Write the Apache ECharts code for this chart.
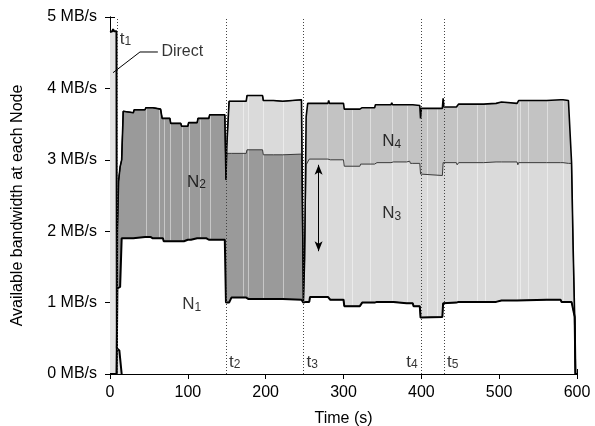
<!DOCTYPE html>
<html><head><meta charset="utf-8">
<script src="https://cdn.jsdelivr.net/npm/echarts@6/dist/echarts.min.js"></script>
<style>html,body{margin:0;padding:0;background:#fff}#c{width:595px;height:426px}</style>
</head><body><div id="c"></div>
<script>
// ---- data (time in s, bandwidth in MB/s) ----
const times = [0,8.5,9.5,11,13,15,17,30,31,45,46,52,53,55,56,65,66,67,68,69,77,78,91,92,95,96,100,101,104,105,112,113,124,125,127,128,147.5,
  149,150,153,155,156,175,176,177,178,196,197,210,211,222,223,246,248.5,250,252,254,256,257,280,281,282,283,300,301,321,322,323,324,340,341,342,343,
  361,362,363,364,365,381,382,385,386,389,390,398,399,400,427,428,429,445,446,447,448,480,481,496,497,503,504,523,524,525,561,562,579,580,582,583,589,593,595,597,598,600];
const node1 = [0,0,1.20,1.22,1.22,1.90,1.90,1.90,1.92,1.92,1.92,1.92,1.90,1.90,1.90,1.90,1.90,1.90,1.90,1.86,1.86,1.86,1.86,1.86,1.86,1.88,1.88,1.88,1.88,1.90,1.90,1.90,1.90,1.88,1.88,1.88,1.88,
  1.00,1.00,1.00,1.00,1.07,1.07,1.07,1.07,1.05,1.05,1.05,1.05,1.05,1.05,1.04,1.04,1.00,1.00,1.01,1.01,1.01,1.08,1.08,1.08,1.08,1.04,1.04,0.95,0.95,0.95,0.95,1.00,1.00,1.00,1.00,1.01,
  1.01,1.01,1.01,1.01,0.99,0.99,0.99,0.99,0.99,0.99,0.95,0.95,0.79,0.79,0.80,0.99,1.00,1.00,1.01,1.01,1.01,1.01,1.01,1.01,1.03,1.03,1.03,1.03,1.03,1.04,1.04,1.04,1.04,1.01,1.01,1.01,1.01,1.01,1.01,0.80,0,0];
const node2 = [0,0,0.80,1.48,1.68,1.10,1.78,1.76,1.78,1.78,1.81,1.81,1.83,1.83,1.81,1.81,1.83,1.68,1.68,1.72,1.72,1.65,1.65,1.61,1.61,1.59,1.59,1.64,1.64,1.62,1.62,1.68,1.68,1.70,1.70,1.75,1.75,
  1.72,2.09,2.09,2.09,2.02,2.02,2.07,2.07,2.09,2.09,2.02,2.02,2.02,2.02,2.04,2.04,0,0,0,0,0,0,0,0,0,0,0,0,0,0,0,0,0,0,0,0,
  0,0,0,0,0,0,0,0,0,0,0,0,0,0,0,0,0,0,0,0,0,0,0,0,0,0,0,0,0,0,0,0,0,0,0,0,0,0,0,0,0,0,0];
const node3 = [0,0,0,0,0,0,0,0,0,0,0,0,0,0,0,0,0,0,0,0,0,0,0,0,0,0,0,0,0,0,0,0,0,0,0,0,0,
  0,0.09,0.73,0.73,0.73,0.73,0.76,0.76,0.76,0.76,0.76,0.76,0.75,0.75,0.76,0.76,0,0.60,1.92,1.92,2.00,1.93,1.93,1.95,1.92,1.96,1.96,1.96,1.96,1.99,1.99,1.94,1.94,1.96,1.96,1.95,
  1.95,1.97,1.96,1.96,1.98,1.98,1.99,1.99,1.96,1.96,2.00,2.00,2.01,2.01,1.98,1.97,1.96,1.96,1.92,1.92,1.95,1.95,1.96,1.96,1.94,1.94,1.94,1.94,1.90,1.92,1.92,1.92,1.92,1.95,1.95,1.94,1.94,1.94,0.79,0,0,0];
const node4 = [0,0,0,0,0,0,0,0,0,0,0,0,0,0,0,0,0,0,0,0,0,0,0,0,0,0,0,0,0,0,0,0,0,0,0,0,0,
  0,0,0,0,0,0,0,0,0,0,0,0,0,0,0,0,0,0,0.67,0.86,0.78,0.78,0.78,0.80,0.79,0.79,0.79,0.80,0.80,0.79,0.79,0.79,0.79,0.81,0.81,0.81,
  0.81,0.82,0.80,0.80,0.80,0.80,0.79,0.79,0.82,0.82,0.82,0.81,0.78,0.92,0.94,0.90,0.78,0.78,0.81,0.81,0.82,0.82,0.82,0.82,0.84,0.84,0.82,0.82,0.86,0.87,0.87,0.88,0.88,0.88,0.88,0.88,0.88,0.02,0,0,0,0];
const directTimes = [0, 3, 4, 5, 8.3, 8.8, 12, 15];
const directValues = [4.79, 4.80, 4.83, 4.80, 4.80, 0.36, 0.33, 0];
const eventIds = ['1', '2', '3', '4', '5'];
const eventTimes = [8.6, 149, 248.6, 399, 429];
const nodeIds = ['1', '2', '3', '4'];
const seamTimes = [4, 46, 63, 69, 77, 92, 102, 115, 129, 171, 177, 197, 222, 279, 300, 311, 334, 362, 381, 407, 420, 446, 471, 482, 523, 527, 537, 561, 582];
const xTicks = [0, 100, 200, 300, 400, 500, 600];
const yTicks = [0, 1, 2, 3, 4, 5];
const yUnit = ' MB/s';

// ---- helpers ----
const FONT = '"Liberation Sans", Arial, Helvetica, sans-serif';
const nodes = [node1, node2, node3, node4];
// cumulative boundaries (stack computed here)
const cums = nodes.map((_, k) => times.map((t, i) => {
  let s = 0; for (let j = 0; j <= k; j++) s += nodes[j][i];
  return +s.toFixed(4);
}));
const pairs = arr => times.map((t, i) => [t, arr[i]]);
function interp(ts, vs, t) {
  for (let i = 1; i < ts.length; i++) {
    if (t <= ts[i]) { const f = (t - ts[i-1]) / (ts[i] - ts[i-1]); return vs[i-1] + f * (vs[i] - vs[i-1]); }
  }
  return vs[vs.length - 1];
}
const seamData = seamTimes.map(t => {
  const lo = interp(times, cums[0], t);
  const hi = Math.max(interp(times, cums[3], t), interp(directTimes, directValues, t));
  return [t, lo, hi];
});

const areaColors = ['#ffffff', '#9a9a9a', '#dadada', '#c3c3c3'];
const lineColors = ['#000', '#3a3a3a', '#3a3a3a', '#000'];
const lineWidths = [2, 1, 1, 1.6];
const lineZ = [5, 4, 4, 5];

const richSub = {
  m: { fontSize: 17, fontFamily: FONT, color: '#000', lineHeight: 18 },
  s: { fontSize: 12, fontFamily: FONT, color: '#000', lineHeight: 9, verticalAlign: 'bottom' }
};

const series = [];
// areas: painted from the top boundary down, each filled to the axis
[3, 2, 1, 0].forEach(k => series.push({
  type: 'line', data: pairs(cums[k]), symbol: 'none', silent: true,
  lineStyle: { opacity: 0, width: 0 }, areaStyle: { color: areaColors[k], opacity: 1, origin: 'start' }, z: 2
}));
// seams
series.push({
  type: 'custom', data: seamData, z: 3, silent: true,
  renderItem: (params, api) => {
    const a = api.coord([api.value(0), api.value(1)]);
    const b = api.coord([api.value(0), api.value(2)]);
    const x = Math.round(a[0]) + 0.5;
    return { type: 'line', shape: { x1: x, y1: a[1] - 1, x2: x, y2: b[1] + 1 },
      style: { stroke: 'rgba(255,255,255,0.45)', lineWidth: 1 } };
  }
});
// Direct
series.push({
  type: 'line', data: directTimes.map((t, i) => [t, directValues[i]]), symbol: 'none', silent: true,
  lineStyle: { color: '#000', width: 2 }, areaStyle: { color: '#e4e4e4', opacity: 1, origin: 'start' }, z: 4
});
// boundary lines
[1, 2, 0, 3].forEach(k => series.push({
  type: 'line', data: pairs(cums[k]), symbol: 'none', silent: true,
  lineStyle: { color: lineColors[k], width: lineWidths[k] }, z: lineZ[k]
}));
// event dotted lines
series.push({
  type: 'custom', data: eventTimes.map(t => [t]), z: 6, silent: true,
  renderItem: (params, api) => {
    const a = api.coord([api.value(0), 0]);
    const b = api.coord([api.value(0), 5]);
    const x = Math.round(a[0]) + 0.5;
    return { type: 'line', shape: { x1: x, y1: a[1], x2: x, y2: b[1] },
      style: { stroke: '#444', lineWidth: 1, lineDash: [1, 2] } };
  }
});
// event labels
const evLabelY = [4.69, 0.17, 0.17, 0.17, 0.17];
const evSide = ['right', 'right', 'right', 'left', 'right'];
series.push({
  type: 'scatter', symbolSize: 0, z: 7, silent: true,
  data: eventTimes.map((t, i) => ({
    value: [t, evLabelY[i]],
    label: { show: true, position: evSide[i], distance: 3,
      formatter: '{m|t}{s|' + eventIds[i] + '}', rich: richSub }
  }))
});
// node labels
const nodePos = [[105, 0.97], [111, 2.69], [362, 2.25], [362, 3.26]];
series.push({
  type: 'scatter', symbolSize: 0, z: 7, silent: true,
  data: nodeIds.map((id, i) => ({
    value: nodePos[i],
    label: { show: true, position: 'inside', formatter: '{m|N}{s|' + id + '}', rich: richSub }
  }))
});
// Direct annotation
series.push({
  type: 'line', data: [[3.9, 4.22], [38.5, 4.51], [61.5, 4.51]], symbol: 'none', silent: true,
  lineStyle: { color: '#000', width: 1 }, z: 7
});
series.push({
  type: 'scatter', symbolSize: 0, z: 7, silent: true,
  data: [{ value: [63.5, 4.51], label: { show: true, position: 'right', distance: 2, formatter: 'Direct',
    fontSize: 16, fontFamily: FONT, color: '#000' } }]
});
// double arrow
series.push({
  type: 'line', data: [], z: 7, silent: true,
  markLine: {
    silent: true, animation: false, symbol: ['arrow', 'arrow'], symbolSize: [6, 10],
    lineStyle: { color: '#000', width: 1, type: 'solid' }, label: { show: false },
    data: [[{ coord: [268, 2.93] }, { coord: [268, 1.72] }]]
  }
});

const axisCommon = {
  axisLine: { show: true, lineStyle: { color: '#000', width: 1 } },
  axisTick: { show: true, inside: true, length: 5, lineStyle: { color: '#000' } },
  splitLine: { show: false }
};
const option = {
  animation: false,
  backgroundColor: '#fff',
  grid: { left: 110, right: 18, top: 17, bottom: 52, outerBoundsMode: 'none', containLabel: false },
  xAxis: [
    Object.assign({ type: 'value', min: xTicks[0], max: xTicks[xTicks.length - 1], interval: 100, position: 'bottom',
      name: 'Time (s)', nameLocation: 'middle', nameGap: 37,
      nameTextStyle: { fontSize: 16, fontFamily: FONT, color: '#000' },
      axisLabel: { fontSize: 16, fontFamily: FONT, color: '#000', margin: 11 } }, axisCommon),
    Object.assign({ type: 'value', min: xTicks[0], max: xTicks[xTicks.length - 1], interval: 100, position: 'top',
      axisLabel: { show: false } }, axisCommon)
  ],
  yAxis: [
    Object.assign({ type: 'value', min: yTicks[0], max: yTicks[yTicks.length - 1], interval: 1, position: 'left',
      name: 'Available bandwidth at each Node', nameLocation: 'middle', nameGap: 84,
      nameTextStyle: { fontSize: 16, fontFamily: FONT, color: '#000', padding: [0, 20, 0, 0] },
      axisLabel: { fontSize: 16, fontFamily: FONT, color: '#000', margin: 13, formatter: v => v + yUnit } }, axisCommon),
    Object.assign({ type: 'value', min: yTicks[0], max: yTicks[yTicks.length - 1], interval: 1, position: 'right',
      axisLabel: { show: false } }, axisCommon)
  ],
  series: series
};
const chart = echarts.init(document.getElementById('c'), null, { renderer: 'canvas' });
chart.setOption(option);
</script>
</body></html>
